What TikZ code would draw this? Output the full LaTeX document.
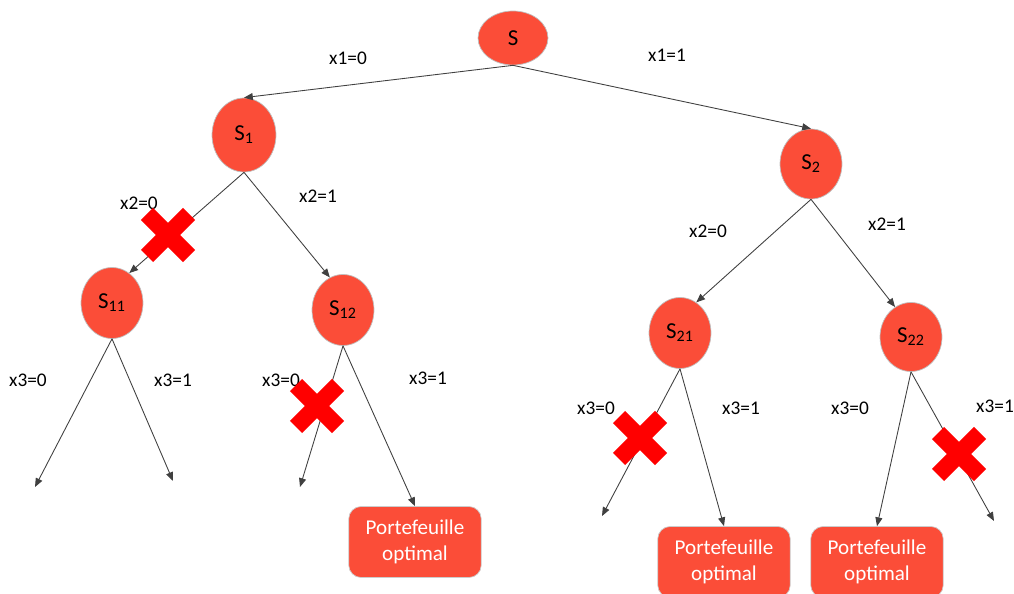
\documentclass[tikz,border=0pt]{standalone}
\usepackage{fontspec}
\setmainfont{Carlito}
\usetikzlibrary{shapes.geometric, arrows.meta}
\definecolor{nodered}{RGB}{251,77,56}
\definecolor{crossred}{RGB}{255,0,0}

\begin{document}
\begin{tikzpicture}[x=0.02cm, y=-0.02cm,
        every node/.style={font=\fontsize{11}{13}\selectfont},
        state/.style={ellipse, fill=nodered, draw=gray!50, inner sep=0pt, minimum width=1.24cm, minimum height=1.42cm, font=\fontsize{13}{15}\selectfont},
        result/.style={rectangle, rounded corners=7pt, fill=nodered, draw=gray!40, text=white, align=center, minimum width=2.65cm, minimum height=1.42cm, font=\fontsize{12}{15}\selectfont},
        branch/.style={draw=black!75, line width=0.5pt, -{Triangle[length=5pt, width=4pt]}},
        cut/.style={draw=crossred, line width=0.34cm}
    ]
    \useasboundingbox (0,0) rectangle (1014,594);

    \node[state, minimum width=1.4cm, minimum height=1.08cm] (S) at (513,38) {S};
    \node[state, minimum width=1.28cm, minimum height=1.48cm] (S1) at (244,135) {S\textsubscript{1}};
    \node[state, minimum height=1.4cm] (S2) at (811,164) {S\textsubscript{2}};
    \node[state] (S11) at (112,303) {S\textsubscript{11}};
    \node[state] (S12) at (343,310) {S\textsubscript{12}};
    \node[state] (S21) at (680,333) {S\textsubscript{21}};
    \node[state, minimum height=1.38cm] (S22) at (911,337) {S\textsubscript{22}};

    \node[result] (P1) at (415,542) {Portefeuille\\optimal};
    \node[result] (P2) at (724,562) {Portefeuille\\optimal};
    \node[result] (P3) at (877,562) {Portefeuille\\optimal};

    \coordinate (E11a) at (35,487);
    \coordinate (E11b) at (173,481);
    \coordinate (E12a) at (300,487);
    \coordinate (E21a) at (602,516);
    \coordinate (E22b) at (994,521);

    \draw[branch] (S.south) -- (S1.north);
    \draw[branch] (S.south) -- (S2.north);
    \draw[branch] (S1.south) -- (S11.60);
    \draw[branch] (S1.south) -- (S12.112);
    \draw[branch] (S2.south) -- (S21.62);
    \draw[branch] (S2.south) -- (S22.118);
    \draw[branch] (S11.south) -- (E11a);
    \draw[branch] (S11.south) -- (E11b);
    \draw[branch] (S12.south) -- (E12a);
    \draw[branch] (S12.south) -- (P1.north);
    \draw[branch] (S21.south) -- (E21a);
    \draw[branch] (S21.south) -- (P2.north);
    \draw[branch] (S22.south) -- (P3.north);
    \draw[branch] (S22.south) -- (E22b);

    \node (L1a) at (348,58) {x1=0};
    \node (L1b) at (667,55) {x1=1};
    \node (L2a) at (139,203) {x2=0};
    \node (L2b) at (318,196) {x2=1};
    \node (L2c) at (708,231) {x2=0};
    \node (L2d) at (887,224) {x2=1};
    \node (L3a) at (28,380) {x3=0};
    \node (L3b) at (173,380) {x3=1};
    \node (L3c) at (281,380) {x3=0};
    \node (L3d) at (428,378) {x3=1};
    \node (L3e) at (596,408) {x3=0};
    \node (L3f) at (741,408) {x3=1};
    \node (L3g) at (850,408) {x3=0};
    \node (L3h) at (995,406) {x3=1};

    \foreach \cx/\cy in {168/235, 317/406, 640/438, 959/454}
        \draw[cut] (\cx-21,\cy-21) -- (\cx+21,\cy+21) (\cx-21,\cy+21) -- (\cx+21,\cy-21);
\end{tikzpicture}
\end{document}
